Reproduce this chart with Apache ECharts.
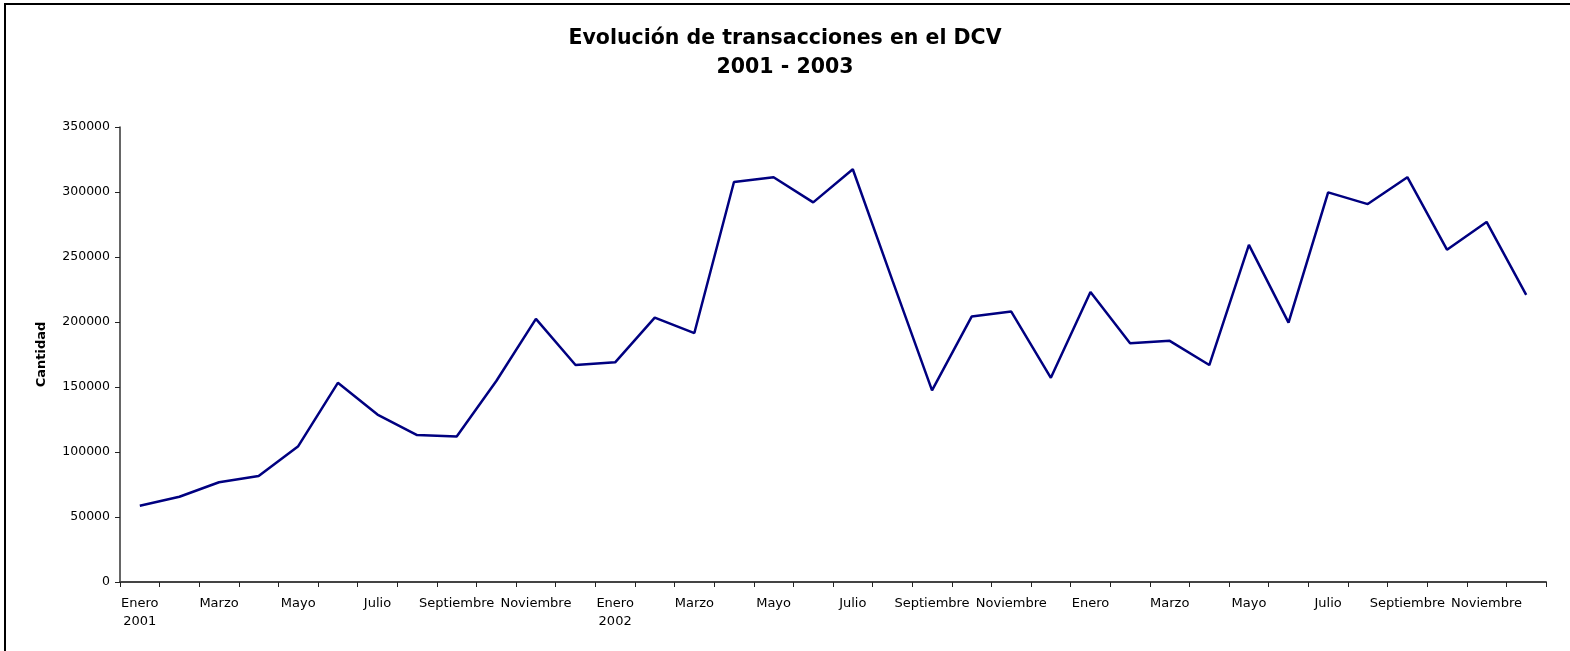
<!DOCTYPE html>
<html>
<head>
<meta charset="utf-8">
<script src="https://cdn.jsdelivr.net/npm/echarts@6/dist/echarts.min.js"></script>
<style>
  html, body { margin: 0; padding: 0; background: #fff; }
  #chart { width: 1570px; height: 651px; }
</style>
</head>
<body>
<div id="chart"></div>
<script>
const months = [
  "Enero\n2001", "Febrero", "Marzo", "Abril", "Mayo", "Junio",
  "Julio", "Agosto", "Septiembre", "Octubre", "Noviembre", "Diciembre",
  "Enero\n2002", "Febrero", "Marzo", "Abril", "Mayo", "Junio",
  "Julio", "Agosto", "Septiembre", "Octubre", "Noviembre", "Diciembre",
  "Enero", "Febrero", "Marzo", "Abril", "Mayo", "Junio",
  "Julio", "Agosto", "Septiembre", "Octubre", "Noviembre", "Diciembre"
];

const transacciones = [
  58700, 65600, 76700, 81500, 104500, 153200, 128800, 113000, 111900, 154600, 202400, 166900,
  169000, 203400, 191500, 307700, 311400, 292000, 317500, 232000, 147400, 204200, 208000, 157100,
  223000, 183600, 185500, 166900, 259300, 199500, 299700, 290700, 311400, 255600, 277000, 220900
];

const yTicks = { min: 0, max: 350000, interval: 50000 };

const chart = echarts.init(document.getElementById("chart"));
const font = "'DejaVu Sans', Verdana, sans-serif";

chart.setOption({
  animation: false,
  title: {
    text: "Evolución de transacciones en el DCV\n2001 - 2003",
    left: "center",
    top: 19,
    textStyle: {
      fontFamily: font,
      fontSize: 20.5,
      fontWeight: "bold",
      color: "#000",
      lineHeight: 29
    }
  },
  grid: { left: 120, right: 24, top: 127, bottom: 69 },
  xAxis: {
    type: "category",
    data: months,
    boundaryGap: true,
    axisLine: { lineStyle: { color: "#444", width: 2 } },
    axisTick: { show: true, length: 5, interval: 0, lineStyle: { color: "#222" } },
    axisLabel: {
      interval: 1,
      fontFamily: font,
      fontSize: 13,
      color: "#000",
      margin: 13,
      lineHeight: 18
    },
    splitLine: { show: false }
  },
  yAxis: {
    type: "value",
    min: yTicks.min,
    max: yTicks.max,
    interval: yTicks.interval,
    name: "Cantidad",
    nameLocation: "middle",
    nameGap: 72,
    nameTextStyle: { fontFamily: font, fontSize: 13, fontWeight: "bold", color: "#000" },
    axisLine: { show: true, lineStyle: { color: "#333", width: 1.5 } },
    axisTick: { show: true, length: 5, lineStyle: { color: "#222" } },
    axisLabel: {
      fontFamily: font,
      fontSize: 12.5,
      color: "#000",
      margin: 10,
      formatter: (v) => String(v)
    },
    splitLine: { show: false }
  },
  graphic: [{
    type: "polyline",
    silent: true,
    shape: { points: [[5, 651], [5, 4], [1570, 4]] },
    style: { stroke: "#000", lineWidth: 2, fill: null }
  }],
  series: [{
    name: "Transacciones",
    type: "line",
    data: transacciones,
    showSymbol: false,
    lineStyle: { color: "#000080", width: 2.5 },
    itemStyle: { color: "#000080" }
  }]
});
</script>
</body>
</html>
